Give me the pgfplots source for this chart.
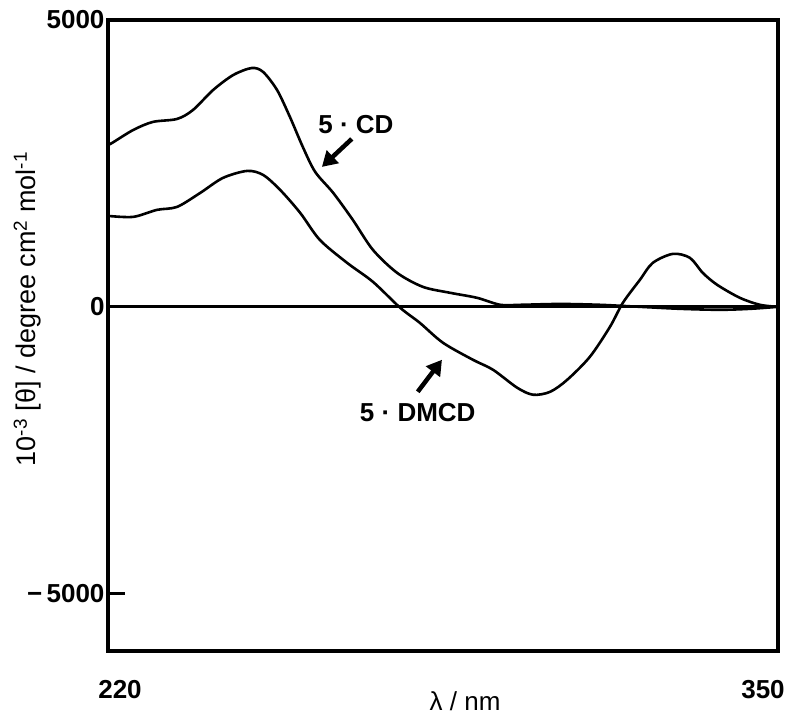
\documentclass[border=0pt]{standalone}
\usepackage{fontspec}
\setmainfont{Liberation Sans}
\usepackage{pgfplots}
\pgfplotsset{compat=1.18}
\usetikzlibrary{arrows.meta}

% CD spectra
\pgfplotstableread{
x y
220.0 2822
220.8 2857
224.9 3083
228.7 3223
233.4 3275
236.5 3432
240.4 3780
244.3 4041
247.9 4163
250.1 4094
252.8 3780
255.3 3310
257.8 2787
260.2 2352
263.7 1986
267.5 1516
271.4 993
276.1 592
281.1 348
286.4 244
291.6 157
296.1 35
300.0 35
307.7 50
315.5 35
323.2 0
331.0 -35
338.7 -52
344.6 -35
350.0 0
}\cdcurve

\pgfplotstableread{
x y
220.0 1585
224.9 1568
229.5 1690
233.4 1742
237.9 1986
242.3 2247
247.0 2369
250.1 2299
253.4 2038
257.3 1637
261.1 1167
266.4 766
271.4 436
276.7 -17
280.5 -279
285.0 -627
290.8 -923
294.7 -1097
299.4 -1411
302.5 -1533
305.8 -1481
309.1 -1272
313.5 -871
317.4 -348
319.9 70
323.2 470
325.7 766
329.6 923
332.9 854
335.4 592
338.2 383
342.6 157
346.5 35
350.0 0
}\dmcdcurve

\begin{document}
\begin{tikzpicture}
\begin{axis}[
  name=ax,
  width=670pt, height=631pt, scale only axis,
  xmin=220, xmax=350, ymin=-6000, ymax=5000,
  axis line style={line width=3.5pt},
  xtick={220,350},
  xticklabel={\ifcase\ticknum\hspace*{24pt}220\or 350\hspace*{30pt}\fi},
  major x tick style={draw=none},
  xticklabel style={yshift=-26pt},
  ytick={-5000,0,5000},
  yticklabels={\char"2212\,5000,0,5000},
  ytick pos=left,
  tick align=inside,
  major tick length=17pt,
  major y tick style={draw=black, line width=3pt},
  tick label style={font=\fontsize{26}{30}\selectfont\bfseries},
  every axis x label/.style={at={(axis description cs:0.533,-0.079)}, anchor=center},
  every axis y label/.style={at={(axis description cs:-0.12,0.542)}, rotate=90, anchor=center},
  xlabel={λ / nm},
  ylabel={10\textsuperscript{-3} [θ] / degree cm\textsuperscript{2} mol\textsuperscript{-1}},
  label style={font=\fontsize{26}{30}\selectfont},
  ylabel style={font=\fontsize{27}{30}\selectfont},
]
\addplot[line width=3pt] coordinates {(220,0) (350,0)};
\addplot[line width=2.6pt, smooth, tension=0.5] table {\cdcurve};
\addplot[line width=2.6pt, smooth, tension=0.5] table {\dmcdcurve};

\draw[line width=4.5pt, -{Triangle[length=15pt,width=17pt]}] (axis cs:267.3,2927) -- (axis cs:261.5,2439);
\draw[line width=4.5pt, -{Triangle[length=15pt,width=17pt]}] (axis cs:280.1,-1481) -- (axis cs:284.8,-923);
\node[font=\fontsize{26}{30}\selectfont\bfseries] at (axis cs:268.1,3170) {5 · CD};
\node[font=\fontsize{26}{30}\selectfont\bfseries] at (axis cs:280.1,-1847) {5 · DMCD};
\end{axis}
\pgfresetboundingbox
\path ([xshift=-108pt,yshift=-65pt]ax.south west) rectangle ++(789pt,716pt);
\end{tikzpicture}
\end{document}
